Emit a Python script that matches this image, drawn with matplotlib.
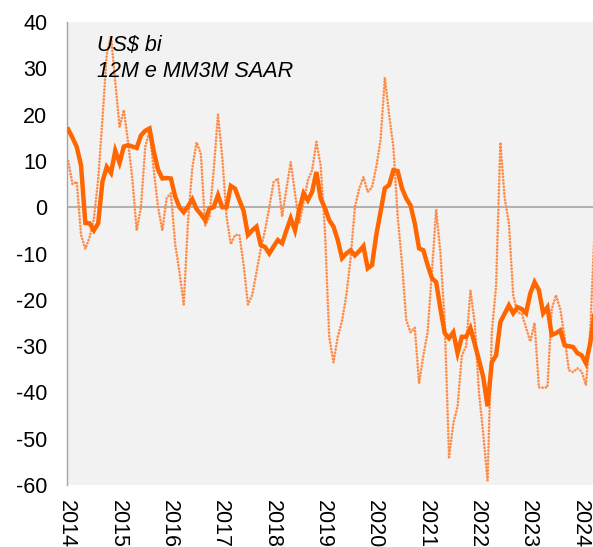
import matplotlib
matplotlib.use("Agg")
import matplotlib.pyplot as plt
import numpy as np

plt.rcParams['font.family'] = ['Liberation Sans', 'DejaVu Sans']

# Monthly series starting Jan 2014 (month index 0)
solid_12m = [16.8, 15.0, 13.0, 9.0, -3.4, -3.5, -5.0, -3.5, 5.5, 8.7,
             7.4, 12.2, 9.6, 13.1, 13.4, 13.1, 12.8, 15.5, 16.5, 17.0,
             12.0, 8.1, 6.2, 6.3, 6.2, 2.3, 0.0, -1.1, 0.2, 1.7,
             -0.4, -1.5, -2.8, -0.3, 0.0, 2.6, 0.0, 0.0, 4.6, 4.0,
             1.5, -0.8, -6.0, -5.0, -4.2, -8.2, -8.6, -10.0, -8.5, -7.1,
             -7.8, -5.0, -2.4, -5.0, -0.5, 3.0, 1.5, 3.3, 7.6, 1.9,
             -0.2, -2.8, -4.2, -7.1, -11.0, -10.0, -9.3, -10.4, -9.5, -8.4,
             -13.2, -12.5, -6.0, -1.0, 4.1, 4.8, 8.0, 7.8, 4.1, 1.9,
             0.4, -3.5, -8.9, -9.3, -12.5, -15.3, -16.2, -22.0, -27.2, -28.3,
             -27.0, -31.5, -28.0, -28.0, -26.1, -29.5, -33.0, -36.7, -43.0, -33.5,
             -32.0, -24.8, -23.0, -21.2, -22.9, -21.6, -22.0, -22.9, -18.6, -16.2,
             -17.9, -22.9, -21.6, -27.6, -27.2, -26.6, -29.8, -30.0, -30.2, -31.5,
             -32.0, -33.7, -29.4, -22.7]

dotted_mm3m = [10.0, 5.0, 5.5, -6.0, -9.0, -6.5, -2.5, 6.0, 19.0, 33.0,
               37.0, 27.0, 17.3, 21.0, 14.0, 6.0, -5.0, 0.0, 13.0, 16.5,
               8.0, 0.0, -5.0, 2.0, 3.0, -8.0, -14.0, -21.0, -3.0, 8.5,
               14.0, 11.5, -4.0, -2.0, 8.0, 20.0, 10.8, -2.0, -8.0, -6.0,
               -6.0, -12.5, -21.0, -19.0, -14.0, -9.0, -5.0, 0.0, 5.4, 6.2,
               -2.0, 4.0, 9.7, 3.0, -3.5, 1.0, 5.8, 8.0, 14.1, 9.0,
               -5.0, -28.0, -33.5, -28.0, -24.5, -19.0, -11.0, 0.0, 4.0, 6.5,
               3.3, 4.3, 8.7, 14.5, 28.0, 20.0, 13.0, -2.0, -12.0, -24.4,
               -27.0, -26.0, -38.0, -32.0, -27.0, -14.0, -0.5, -10.0, -25.0, -54.0,
               -46.7, -43.0, -32.0, -30.0, -18.0, -25.0, -40.0, -49.0, -59.0, -27.0,
               -17.0, 14.0, 2.0, -3.5, -19.0, -22.7, -23.0, -26.0, -29.0, -25.0,
               -38.9, -39.0, -38.9, -22.0, -19.0, -22.0, -28.0, -35.2, -35.6, -34.8,
               -35.5, -38.4, -27.0, -5.0]

year_labels = [str(y) for y in range(2014, 2025)]
annotation_lines = ["US$ bi", "12M e MM3M SAAR"]

months = np.arange(len(solid_12m)) + 0.35

fig = plt.figure(figsize=(5.93, 5.47), dpi=100)
ax = fig.add_axes([0.1125, 0.1133, 0.8875, 0.8465])
ax.set_facecolor('#F2F2F2')

ax.axhline(0, color='#A6A6A6', linewidth=1.2, zorder=1)
ax.plot(months, dotted_mm3m, color='#FF8D4A', linewidth=1.9,
        linestyle=(0, (0.1, 1.15)), dash_capstyle='round', zorder=2)
ax.plot(months, solid_12m, color='#FF6600', linewidth=3.2,
        solid_joinstyle='miter', zorder=3)

ax.set_xlim(0, 123.0)
ax.set_ylim(-60, 40)
ax.set_yticks(np.arange(-60, 41, 10))
ax.set_yticklabels([str(v) for v in range(-60, 41, 10)])
ax.set_xticks(np.arange(0, 12 * len(year_labels), 12))
ax.set_xticklabels(year_labels, rotation=270, va='top', ha='center')

for s in ['top', 'right', 'bottom']:
    ax.spines[s].set_visible(False)
ax.spines['left'].set_color('#A6A6A6')
ax.spines['left'].set_linewidth(1.0)
ax.tick_params(axis='both', length=0, labelsize=15.5, colors='#000000')
ax.tick_params(axis='y', pad=14)
ax.tick_params(axis='x', pad=11)

ax.text(0.0576, 0.937, annotation_lines[0], transform=ax.transAxes,
        fontsize=15.5, style='italic', va='baseline', ha='left')
ax.text(0.0576, 0.881, annotation_lines[1], transform=ax.transAxes,
        fontsize=15.5, style='italic', va='baseline', ha='left')

fig.savefig('out.png', dpi=100)
